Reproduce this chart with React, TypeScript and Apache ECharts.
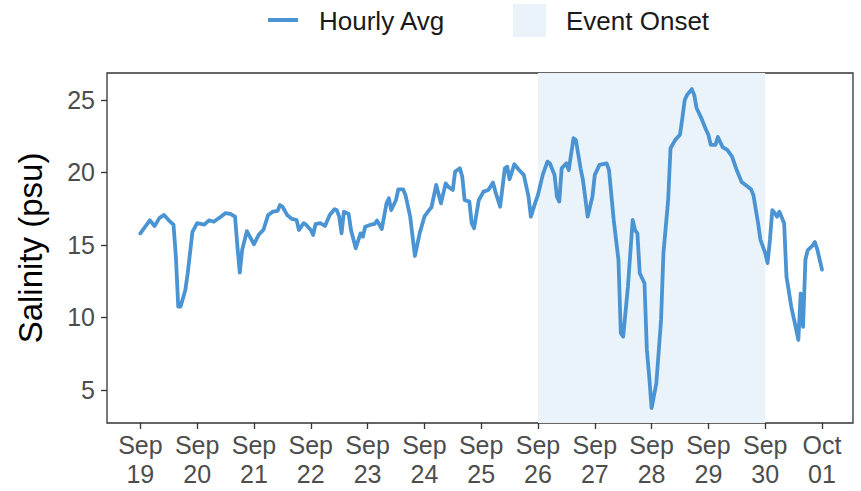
import React, { useEffect, useRef } from "react";
import * as echarts from "echarts";

// Hours since Sep 19 00:00
const hours = [
  0, 4, 6, 8, 10, 12, 14, 15, 16, 17, 19, 20, 22, 24, 27, 29, 31, 34, 36, 38,
  40, 41, 42, 43, 45, 47, 48, 50, 52, 54, 56, 58, 59, 60, 62, 64, 66, 67, 69, 70,
  72, 73, 74, 76, 78, 80, 82, 83, 84, 85, 86, 88, 89, 91, 93, 94, 95, 97, 99, 100,
  102, 104, 105, 106, 108, 109, 111, 112, 114, 116, 118, 120, 122, 123, 125, 127, 129, 130, 132, 133,
  135, 136, 137, 139, 140, 141, 143, 145, 147, 149, 150, 152, 154, 155, 156, 158, 160, 162, 164, 165,
  167, 168, 170, 172, 173, 175, 176, 177, 178, 180, 181, 183, 184, 186, 187, 189, 191, 192, 194, 197,
  198, 200, 202, 203, 204, 206, 208, 209, 210, 211, 213, 214, 215, 216, 218, 220, 221, 223, 224, 226,
  228, 229, 230, 231, 233, 234, 235, 237, 239, 240, 241, 243, 244, 245, 246, 248, 250, 252, 254, 256,
  258, 259, 261, 262, 264, 265, 266, 267, 268, 269, 270, 272, 273, 274, 275, 277, 278, 279, 280, 281,
  282, 284, 285, 286, 288,
];
const salinity = [
  15.8, 16.7, 16.3, 16.85, 17.07, 16.7, 16.4, 14.2, 10.75, 10.75, 11.9, 13.05, 15.9, 16.5, 16.4, 16.7, 16.6, 16.95, 17.2, 17.15,
  16.95, 14.9, 13.1, 14.65, 15.95, 15.35, 15.05, 15.7, 16.05, 17.07, 17.3, 17.35, 17.75, 17.65, 17.07, 16.8, 16.72, 16.03, 16.5, 16.4,
  16.03, 15.69, 16.43, 16.5, 16.31, 17.07, 17.46, 17.41, 16.95, 15.8, 17.3, 17.14, 16.03, 14.77, 15.8, 15.57, 16.26, 16.38, 16.45, 16.68,
  16.1, 17.87, 18.22, 17.41, 18.1, 18.84, 18.84, 18.45, 16.95, 14.24, 15.8, 16.95, 17.41, 17.6, 19.14, 17.87, 19.25, 19.02, 18.79, 20.06,
  20.29, 19.71, 18.1, 17.99, 16.5, 16.15, 18.1, 18.68, 18.79, 19.3, 18.68, 17.64, 20.29, 20.4, 19.53, 20.57, 20.17, 19.83, 18.33, 16.95,
  17.99, 18.45, 19.83, 20.75, 20.63, 19.83, 18.33, 17.99, 20.29, 20.63, 20.17, 22.36, 22.24, 20.29, 19.48, 16.95, 18.33, 19.83, 20.52, 20.63,
  20.17, 16.72, 13.97, 8.91, 8.68, 12.12, 16.72, 16.03, 15.8, 13.05, 12.36, 7.76, 5.92, 3.74, 5.46, 9.83, 14.43, 18.1, 21.67, 22.25,
  22.6, 23.75, 25.0, 25.35, 25.75, 25.35, 24.45, 23.75, 22.95, 22.6, 21.9, 21.9, 22.45, 22.1, 21.75, 21.55, 21.1, 20.15, 19.35, 19.1,
  18.85, 18.45, 16.5, 15.35, 14.45, 13.75, 15.35, 17.4, 17.2, 16.95, 17.3, 16.5, 12.8, 11.8, 10.75, 9.25, 8.45, 11.65, 9.35, 14.0,
  14.65, 14.95, 15.2, 14.7, 13.3,
];

const dayTicks = [0, 24, 48, 72, 96, 120, 144, 168, 192, 216, 240, 264, 288];
const tickLabels = [
  "Sep\n19", "Sep\n20", "Sep\n21", "Sep\n22", "Sep\n23", "Sep\n24", "Sep\n25",
  "Sep\n26", "Sep\n27", "Sep\n28", "Sep\n29", "Sep\n30", "Oct\n01",
];
const yTicks = [5, 10, 15, 20, 25];
const eventStart = 168;
const eventEnd = 264;

const LINE_COLOR = "#4a94d3";
const AREA_COLOR = "#ebf3fa";
const FONT = "'Liberation Sans', Arial, sans-serif";

export default function App() {
  const ref = useRef<HTMLDivElement>(null);
  useEffect(() => {
    if (!ref.current) return;
    const chart = echarts.init(ref.current, null, { renderer: "svg" });
    const data = hours.map((h, i) => [h, salinity[i]]);
    chart.setOption({
      animation: false,
      textStyle: { fontFamily: FONT },
      grid: {
        left: 107,
        top: 73,
        width: 746,
        height: 350,
        show: true,
        borderColor: "#333333",
        borderWidth: 1.3,
        backgroundColor: "transparent",
        containLabel: false,
        outerBoundsMode: "none",
      },
      xAxis: {
        type: "value",
        min: -14.1,
        max: 301.1,
        axisLine: { show: false, onZero: false },
        splitLine: { show: false },
        axisTick: {
          show: true,
          length: 6,
          customValues: dayTicks,
          lineStyle: { color: "#333333", width: 1.3 },
        },
        axisLabel: {
          customValues: dayTicks,
          fontSize: 25,
          lineHeight: 29,
          color: "#4d4d4d",
          margin: 7,
          fontFamily: FONT,
          formatter: (v: number) => {
            const idx = dayTicks.indexOf(Math.round(v));
            return idx >= 0 ? tickLabels[idx] : "";
          },
        },
      },
      yAxis: {
        type: "value",
        min: 2.72,
        max: 26.86,
        name: "Salinity (psu)",
        nameLocation: "middle",
        nameRotate: 90,
        nameGap: 60,
        nameTextStyle: { fontSize: 33, color: "#000000", fontFamily: FONT },
        axisLine: { show: false, onZero: false },
        splitLine: { show: false },
        axisTick: {
          show: true,
          length: 6,
          customValues: yTicks,
          lineStyle: { color: "#333333", width: 1.3 },
        },
        axisLabel: {
          customValues: yTicks,
          fontSize: 25,
          color: "#4d4d4d",
          margin: 12,
          fontFamily: FONT,
        },
      },
      graphic: [
        { type: "rect", shape: { x: 268, y: 18, width: 30, height: 4 }, style: { fill: LINE_COLOR } },
        {
          type: "text",
          x: 319,
          y: 21,
          style: { text: "Hourly Avg", fontSize: 26, fontFamily: FONT, fill: "#1a1a1a", verticalAlign: "middle" },
        },
        { type: "rect", shape: { x: 513, y: 4, width: 33, height: 33 }, style: { fill: AREA_COLOR } },
        {
          type: "text",
          x: 566,
          y: 21,
          style: { text: "Event Onset", fontSize: 26, fontFamily: FONT, fill: "#1a1a1a", verticalAlign: "middle" },
        },
      ],
      series: [
        {
          name: "Event Onset",
          type: "line",
          data: [],
          z: 1,
          markArea: {
            silent: true,
            itemStyle: { color: AREA_COLOR, opacity: 1 },
            data: [[{ xAxis: eventStart }, { xAxis: eventEnd }]],
          },
        },
        {
          name: "Hourly Avg",
          type: "line",
          data,
          z: 3,
          showSymbol: false,
          smooth: false,
          lineStyle: { color: LINE_COLOR, width: 3.8, join: "round", cap: "round" },
          itemStyle: { color: LINE_COLOR },
        },
      ],
    });
    return () => chart.dispose();
  }, []);
  return (
    <div
      ref={ref}
      style={{ position: "fixed", left: 0, top: 0, width: 861, height: 491, background: "#ffffff" }}
    />
  );
}
